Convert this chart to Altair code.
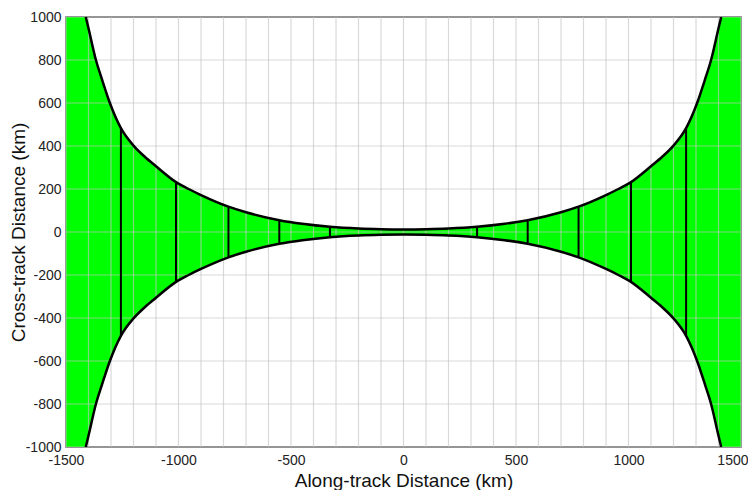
import altair as alt
import pandas as pd

# Upper boundary of the green swath (km); lower boundary is its mirror image
along_km = [-1500, -1412, -1400, -1367, -1340, -1305, -1256, -1200, -1150, -1100, -1011,
            -955, -900, -778, -700, -552, -450, -327, -200, -100, 0,
            100, 200, 327, 450, 552, 700, 778, 900, 955, 1011,
            1100, 1150, 1200, 1256, 1305, 1340, 1367, 1400, 1412, 1500]
upper_km = [1000, 1000, 948, 800, 710, 600, 483, 402, 350, 306, 232,
            200, 172, 118, 92, 55, 38, 24, 16, 13, 12,
            13, 16, 24, 38, 55, 92, 118, 172, 200, 232,
            306, 350, 402, 483, 600, 710, 800, 948, 1000, 1000]
lower_km = [-v for v in upper_km]

# Vertical black cross-lines
tick_along = [-1256, -1011, -778, -552, -327, 327, 552, 778, 1011, 1256]
tick_half = [483, 232, 118, 55, 24, 24, 55, 118, 232, 483]

x_grid = list(range(-1500, 1501, 100))
y_grid = list(range(-1000, 1001, 200))
x_labels = [-1500, -1000, -500, 0, 500, 1000, 1500]
y_labels = y_grid

area_df = pd.DataFrame({"x": along_km, "top": upper_km, "bot": lower_km})
curve_df = pd.DataFrame({
    "x": along_km[1:-1] + along_km[1:-1],
    "y": upper_km[1:-1] + lower_km[1:-1],
    "side": ["upper"] * (len(along_km) - 2) + ["lower"] * (len(along_km) - 2),
})
tick_df = pd.DataFrame({"x": tick_along, "top": tick_half,
                        "bot": [-v for v in tick_half]})

xscale = alt.Scale(domain=[-1500, 1500], nice=False, zero=False)
yscale = alt.Scale(domain=[-1000, 1000], nice=False, zero=False)

xaxis = alt.Axis(
    title="Along-track Distance (km)", values=x_labels,
    labelExpr="toString(datum.value)",
    labelOverlap=False, labelFlush=False,
    labelAlign={"condition": {"test": "datum.value === 1500", "value": "right"},
                "value": "center"},
    labelOffset={"condition": {"test": "datum.value === 1500", "value": 7},
                 "value": 0},
    grid=False, ticks=False, domain=False, labelPadding=6,
    titleY=33, titleBaseline="middle",
)
yaxis = alt.Axis(
    title="Cross-track Distance (km)", values=y_labels,
    labelExpr="toString(datum.value)",
    labelOverlap=False, labelFlush=False,
    grid=False, ticks=False, domain=False, labelPadding=5,
    titleX=-48, titleBaseline="middle",
)

area = alt.Chart(area_df).mark_area(
    color="#00ff00", interpolate="monotone", clip=True, opacity=1
).encode(
    x=alt.X("x:Q", scale=xscale, axis=xaxis),
    y=alt.Y("top:Q", scale=yscale, axis=yaxis),
    y2="bot:Q",
)

xgrid = alt.Chart(pd.DataFrame({"g": x_grid})).mark_rule(
    color="#c4c4c4", opacity=0.65, strokeWidth=1.2
).encode(x=alt.X("g:Q", scale=xscale))

ygrid = alt.Chart(pd.DataFrame({"g": y_grid})).mark_rule(
    color="#c4c4c4", opacity=0.65, strokeWidth=1.2
).encode(y=alt.Y("g:Q", scale=yscale))

curves = alt.Chart(curve_df).mark_line(
    color="black", strokeWidth=2.5, interpolate="monotone", clip=True
).encode(
    x=alt.X("x:Q", scale=xscale),
    y=alt.Y("y:Q", scale=yscale),
    detail="side:N",
)

ticks = alt.Chart(tick_df).mark_rule(color="black", strokeWidth=2).encode(
    x=alt.X("x:Q", scale=xscale),
    y=alt.Y("bot:Q", scale=yscale),
    y2="top:Q",
)

chart = alt.layer(area, xgrid, ygrid, ticks, curves).properties(
    width=675, height=430,
    autosize=alt.AutoSizeParams(type="none"),
    padding={"left": 58, "top": 9, "right": 7, "bottom": 45},
).configure_view(
    stroke="#555555", strokeWidth=1.5
).configure_axis(
    labelFont="Liberation Sans", labelFontSize=14, labelColor="#222222",
    titleFont="Liberation Sans", titleFontSize=19, titleFontWeight="normal",
    titleColor="#111111",
)

chart.save("out.html", embed_options={"renderer": "svg", "actions": False})
